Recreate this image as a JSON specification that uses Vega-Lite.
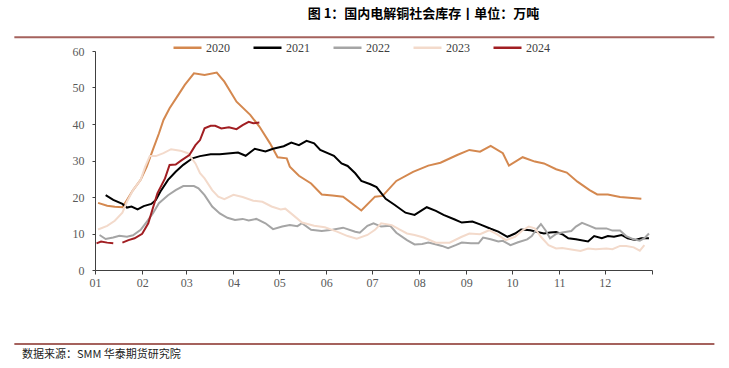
{
  "$schema": "https://vega.github.io/schema/vega-lite/v6.json",
  "width": 557,
  "height": 219,
  "autosize": {"type": "none"},
  "padding": {"left": 95, "top": 51, "right": 77, "bottom": 98},
  "background": "white",
  "title": {
    "text": "图 1：国内电解铜社会库存丨单位：万吨",
    "font": "Noto Sans CJK SC",
    "fontSize": 13,
    "fontWeight": "bold",
    "color": "#000000",
    "anchor": "middle",
    "frame": "group",
    "dx": 50,
    "offset": 11
  },
  "config": {
    "view": {"stroke": null},
    "axis": {
      "labelFont": "Liberation Serif",
      "labelFontSize": 12,
      "labelColor": "#595959",
      "domainColor": "#404040",
      "tickColor": "#404040",
      "grid": false,
      "title": null
    },
    "axisY": {"tickSize": 3, "labelPadding": 8, "labelOverlap": false, "labelFlush": false},
    "axisX": {"tickSize": 4, "labelPadding": 3, "labelOverlap": false, "labelFlush": false}
  },
  "layer": [
    {
      "data": {"values": [
        {"year":"2020","seg":"a","date":"2020-01-03","value":18.4},
        {"year":"2020","seg":"a","date":"2020-01-09","value":17.6},
        {"year":"2020","seg":"a","date":"2020-01-14","value":17.3},
        {"year":"2020","seg":"a","date":"2020-01-19","value":17.2},
        {"year":"2020","seg":"a","date":"2020-01-22","value":19.2},
        {"year":"2020","seg":"a","date":"2020-01-26","value":21.9},
        {"year":"2020","seg":"a","date":"2020-01-31","value":24.7},
        {"year":"2020","seg":"a","date":"2020-02-04","value":28.3},
        {"year":"2020","seg":"a","date":"2020-02-08","value":32.9},
        {"year":"2020","seg":"a","date":"2020-02-12","value":37.4},
        {"year":"2020","seg":"a","date":"2020-02-15","value":41.1},
        {"year":"2020","seg":"a","date":"2020-02-19","value":44.3},
        {"year":"2020","seg":"a","date":"2020-02-24","value":47.5},
        {"year":"2020","seg":"a","date":"2020-02-29","value":50.7},
        {"year":"2020","seg":"a","date":"2020-03-06","value":53.9},
        {"year":"2020","seg":"a","date":"2020-03-13","value":53.4},
        {"year":"2020","seg":"a","date":"2020-03-21","value":54.1},
        {"year":"2020","seg":"a","date":"2020-03-26","value":51.6},
        {"year":"2020","seg":"a","date":"2020-04-03","value":46.1},
        {"year":"2020","seg":"a","date":"2020-04-12","value":42.5},
        {"year":"2020","seg":"a","date":"2020-04-18","value":39.3},
        {"year":"2020","seg":"a","date":"2020-04-25","value":34.7},
        {"year":"2020","seg":"a","date":"2020-04-30","value":30.9},
        {"year":"2020","seg":"a","date":"2020-05-06","value":30.6},
        {"year":"2020","seg":"a","date":"2020-05-08","value":28.3},
        {"year":"2020","seg":"a","date":"2020-05-14","value":25.8},
        {"year":"2020","seg":"a","date":"2020-05-22","value":23.7},
        {"year":"2020","seg":"a","date":"2020-05-29","value":20.7},
        {"year":"2020","seg":"a","date":"2020-06-05","value":20.4},
        {"year":"2020","seg":"a","date":"2020-06-12","value":20.1},
        {"year":"2020","seg":"a","date":"2020-06-24","value":16.3},
        {"year":"2020","seg":"a","date":"2020-07-03","value":20.1},
        {"year":"2020","seg":"a","date":"2020-07-08","value":20.3},
        {"year":"2020","seg":"a","date":"2020-07-17","value":24.4},
        {"year":"2020","seg":"a","date":"2020-07-28","value":26.9},
        {"year":"2020","seg":"a","date":"2020-08-07","value":28.6},
        {"year":"2020","seg":"a","date":"2020-08-15","value":29.4},
        {"year":"2020","seg":"a","date":"2020-08-26","value":31.5},
        {"year":"2020","seg":"a","date":"2020-09-03","value":32.9},
        {"year":"2020","seg":"a","date":"2020-09-10","value":32.4},
        {"year":"2020","seg":"a","date":"2020-09-17","value":34.0},
        {"year":"2020","seg":"a","date":"2020-09-25","value":32.0},
        {"year":"2020","seg":"a","date":"2020-09-29","value":28.6},
        {"year":"2020","seg":"a","date":"2020-10-08","value":30.9},
        {"year":"2020","seg":"a","date":"2020-10-16","value":29.7},
        {"year":"2020","seg":"a","date":"2020-10-22","value":29.2},
        {"year":"2020","seg":"a","date":"2020-10-30","value":27.6},
        {"year":"2020","seg":"a","date":"2020-11-06","value":26.7},
        {"year":"2020","seg":"a","date":"2020-11-13","value":24.2},
        {"year":"2020","seg":"a","date":"2020-11-21","value":21.9},
        {"year":"2020","seg":"a","date":"2020-11-26","value":20.7},
        {"year":"2020","seg":"a","date":"2020-12-03","value":20.7},
        {"year":"2020","seg":"a","date":"2020-12-11","value":20.0},
        {"year":"2020","seg":"a","date":"2020-12-19","value":19.7},
        {"year":"2020","seg":"a","date":"2020-12-25","value":19.5},

        {"year":"2021","seg":"a","date":"2021-01-08","value":20.5},
        {"year":"2021","seg":"a","date":"2021-01-13","value":19.2},
        {"year":"2021","seg":"a","date":"2021-01-19","value":18.1},
        {"year":"2021","seg":"a","date":"2021-01-22","value":17.1},
        {"year":"2021","seg":"a","date":"2021-01-25","value":17.4},
        {"year":"2021","seg":"a","date":"2021-01-29","value":16.6},
        {"year":"2021","seg":"a","date":"2021-02-02","value":17.5},
        {"year":"2021","seg":"a","date":"2021-02-07","value":18.1},
        {"year":"2021","seg":"a","date":"2021-02-10","value":19.2},
        {"year":"2021","seg":"a","date":"2021-02-13","value":21.5},
        {"year":"2021","seg":"a","date":"2021-02-18","value":24.7},
        {"year":"2021","seg":"a","date":"2021-02-23","value":26.9},
        {"year":"2021","seg":"a","date":"2021-02-28","value":28.8},
        {"year":"2021","seg":"a","date":"2021-03-05","value":30.6},
        {"year":"2021","seg":"a","date":"2021-03-10","value":31.2},
        {"year":"2021","seg":"a","date":"2021-03-17","value":31.7},
        {"year":"2021","seg":"a","date":"2021-03-23","value":31.7},
        {"year":"2021","seg":"a","date":"2021-03-30","value":32.0},
        {"year":"2021","seg":"a","date":"2021-04-04","value":32.2},
        {"year":"2021","seg":"a","date":"2021-04-09","value":31.3},
        {"year":"2021","seg":"a","date":"2021-04-15","value":33.2},
        {"year":"2021","seg":"a","date":"2021-04-22","value":32.5},
        {"year":"2021","seg":"a","date":"2021-04-27","value":33.2},
        {"year":"2021","seg":"a","date":"2021-05-04","value":33.9},
        {"year":"2021","seg":"a","date":"2021-05-09","value":34.9},
        {"year":"2021","seg":"a","date":"2021-05-14","value":34.2},
        {"year":"2021","seg":"a","date":"2021-05-19","value":35.4},
        {"year":"2021","seg":"a","date":"2021-05-24","value":34.7},
        {"year":"2021","seg":"a","date":"2021-05-28","value":32.9},
        {"year":"2021","seg":"a","date":"2021-06-06","value":31.3},
        {"year":"2021","seg":"a","date":"2021-06-11","value":29.2},
        {"year":"2021","seg":"a","date":"2021-06-15","value":28.5},
        {"year":"2021","seg":"a","date":"2021-06-20","value":26.5},
        {"year":"2021","seg":"a","date":"2021-06-24","value":24.4},
        {"year":"2021","seg":"a","date":"2021-06-30","value":23.5},
        {"year":"2021","seg":"a","date":"2021-07-04","value":22.7},
        {"year":"2021","seg":"a","date":"2021-07-10","value":19.5},
        {"year":"2021","seg":"a","date":"2021-07-16","value":17.8},
        {"year":"2021","seg":"a","date":"2021-07-23","value":15.7},
        {"year":"2021","seg":"a","date":"2021-07-29","value":15.1},
        {"year":"2021","seg":"a","date":"2021-08-06","value":17.2},
        {"year":"2021","seg":"a","date":"2021-08-12","value":16.2},
        {"year":"2021","seg":"a","date":"2021-08-17","value":15.1},
        {"year":"2021","seg":"a","date":"2021-08-24","value":13.9},
        {"year":"2021","seg":"a","date":"2021-08-29","value":13.0},
        {"year":"2021","seg":"a","date":"2021-09-05","value":13.3},
        {"year":"2021","seg":"a","date":"2021-09-10","value":12.5},
        {"year":"2021","seg":"a","date":"2021-09-17","value":11.3},
        {"year":"2021","seg":"a","date":"2021-09-22","value":10.5},
        {"year":"2021","seg":"a","date":"2021-09-28","value":9.1},
        {"year":"2021","seg":"a","date":"2021-10-03","value":10.0},
        {"year":"2021","seg":"a","date":"2021-10-07","value":11.1},
        {"year":"2021","seg":"a","date":"2021-10-13","value":10.9},
        {"year":"2021","seg":"a","date":"2021-10-17","value":10.5},
        {"year":"2021","seg":"a","date":"2021-10-22","value":10.0},
        {"year":"2021","seg":"a","date":"2021-10-26","value":10.3},
        {"year":"2021","seg":"a","date":"2021-10-30","value":10.4},
        {"year":"2021","seg":"a","date":"2021-11-03","value":9.8},
        {"year":"2021","seg":"a","date":"2021-11-07","value":8.7},
        {"year":"2021","seg":"a","date":"2021-11-12","value":8.4},
        {"year":"2021","seg":"a","date":"2021-11-20","value":7.8},
        {"year":"2021","seg":"a","date":"2021-11-24","value":9.3},
        {"year":"2021","seg":"a","date":"2021-11-29","value":8.7},
        {"year":"2021","seg":"a","date":"2021-12-03","value":9.3},
        {"year":"2021","seg":"a","date":"2021-12-07","value":9.1},
        {"year":"2021","seg":"a","date":"2021-12-12","value":9.6},
        {"year":"2021","seg":"a","date":"2021-12-16","value":8.7},
        {"year":"2021","seg":"a","date":"2021-12-21","value":8.2},
        {"year":"2021","seg":"a","date":"2021-12-25","value":8.7},
        {"year":"2021","seg":"a","date":"2021-12-30","value":8.7},

        {"year":"2022","seg":"a","date":"2022-01-04","value":9.6},
        {"year":"2022","seg":"a","date":"2022-01-08","value":8.5},
        {"year":"2022","seg":"a","date":"2022-01-13","value":8.9},
        {"year":"2022","seg":"a","date":"2022-01-17","value":9.4},
        {"year":"2022","seg":"a","date":"2022-01-22","value":9.1},
        {"year":"2022","seg":"a","date":"2022-01-26","value":9.5},
        {"year":"2022","seg":"a","date":"2022-01-31","value":11.0},
        {"year":"2022","seg":"a","date":"2022-02-04","value":13.2},
        {"year":"2022","seg":"a","date":"2022-02-08","value":15.5},
        {"year":"2022","seg":"a","date":"2022-02-12","value":18.3},
        {"year":"2022","seg":"a","date":"2022-02-18","value":20.5},
        {"year":"2022","seg":"a","date":"2022-02-23","value":21.9},
        {"year":"2022","seg":"a","date":"2022-02-28","value":23.0},
        {"year":"2022","seg":"a","date":"2022-03-06","value":23.0},
        {"year":"2022","seg":"a","date":"2022-03-09","value":22.4},
        {"year":"2022","seg":"a","date":"2022-03-13","value":20.5},
        {"year":"2022","seg":"a","date":"2022-03-18","value":17.4},
        {"year":"2022","seg":"a","date":"2022-03-23","value":15.5},
        {"year":"2022","seg":"a","date":"2022-03-28","value":14.3},
        {"year":"2022","seg":"a","date":"2022-04-02","value":13.7},
        {"year":"2022","seg":"a","date":"2022-04-07","value":14.0},
        {"year":"2022","seg":"a","date":"2022-04-11","value":13.6},
        {"year":"2022","seg":"a","date":"2022-04-16","value":14.0},
        {"year":"2022","seg":"a","date":"2022-04-22","value":12.8},
        {"year":"2022","seg":"a","date":"2022-04-27","value":11.2},
        {"year":"2022","seg":"a","date":"2022-05-03","value":11.9},
        {"year":"2022","seg":"a","date":"2022-05-08","value":12.3},
        {"year":"2022","seg":"a","date":"2022-05-13","value":12.0},
        {"year":"2022","seg":"a","date":"2022-05-16","value":12.8},
        {"year":"2022","seg":"a","date":"2022-05-22","value":11.0},
        {"year":"2022","seg":"a","date":"2022-05-29","value":10.7},
        {"year":"2022","seg":"a","date":"2022-06-05","value":11.0},
        {"year":"2022","seg":"a","date":"2022-06-12","value":11.6},
        {"year":"2022","seg":"a","date":"2022-06-20","value":10.5},
        {"year":"2022","seg":"a","date":"2022-06-23","value":10.2},
        {"year":"2022","seg":"a","date":"2022-06-28","value":12.1},
        {"year":"2022","seg":"a","date":"2022-07-02","value":12.8},
        {"year":"2022","seg":"a","date":"2022-07-07","value":11.9},
        {"year":"2022","seg":"a","date":"2022-07-13","value":12.1},
        {"year":"2022","seg":"a","date":"2022-07-17","value":10.2},
        {"year":"2022","seg":"a","date":"2022-07-24","value":8.2},
        {"year":"2022","seg":"a","date":"2022-07-29","value":7.0},
        {"year":"2022","seg":"a","date":"2022-08-03","value":7.1},
        {"year":"2022","seg":"a","date":"2022-08-07","value":7.5},
        {"year":"2022","seg":"a","date":"2022-08-11","value":7.1},
        {"year":"2022","seg":"a","date":"2022-08-16","value":6.6},
        {"year":"2022","seg":"a","date":"2022-08-20","value":6.0},
        {"year":"2022","seg":"a","date":"2022-08-25","value":6.8},
        {"year":"2022","seg":"a","date":"2022-08-29","value":7.5},
        {"year":"2022","seg":"a","date":"2022-09-04","value":7.3},
        {"year":"2022","seg":"a","date":"2022-09-09","value":7.3},
        {"year":"2022","seg":"a","date":"2022-09-12","value":8.9},
        {"year":"2022","seg":"a","date":"2022-09-17","value":8.4},
        {"year":"2022","seg":"a","date":"2022-09-22","value":7.8},
        {"year":"2022","seg":"a","date":"2022-09-25","value":8.0},
        {"year":"2022","seg":"a","date":"2022-09-30","value":6.8},
        {"year":"2022","seg":"a","date":"2022-10-05","value":7.6},
        {"year":"2022","seg":"a","date":"2022-10-11","value":8.4},
        {"year":"2022","seg":"a","date":"2022-10-14","value":9.3},
        {"year":"2022","seg":"a","date":"2022-10-17","value":11.1},
        {"year":"2022","seg":"a","date":"2022-10-20","value":12.6},
        {"year":"2022","seg":"a","date":"2022-10-23","value":10.9},
        {"year":"2022","seg":"a","date":"2022-10-26","value":8.7},
        {"year":"2022","seg":"a","date":"2022-10-30","value":9.9},
        {"year":"2022","seg":"a","date":"2022-11-03","value":10.3},
        {"year":"2022","seg":"a","date":"2022-11-09","value":10.7},
        {"year":"2022","seg":"a","date":"2022-11-12","value":11.9},
        {"year":"2022","seg":"a","date":"2022-11-16","value":12.9},
        {"year":"2022","seg":"a","date":"2022-11-21","value":12.1},
        {"year":"2022","seg":"a","date":"2022-11-25","value":11.4},
        {"year":"2022","seg":"a","date":"2022-12-02","value":11.4},
        {"year":"2022","seg":"a","date":"2022-12-06","value":10.8},
        {"year":"2022","seg":"a","date":"2022-12-11","value":10.8},
        {"year":"2022","seg":"a","date":"2022-12-15","value":9.3},
        {"year":"2022","seg":"a","date":"2022-12-20","value":8.4},
        {"year":"2022","seg":"a","date":"2022-12-24","value":8.0},
        {"year":"2022","seg":"a","date":"2022-12-27","value":8.7},
        {"year":"2022","seg":"a","date":"2022-12-30","value":10.0},

        {"year":"2023","seg":"a","date":"2023-01-03","value":11.1},
        {"year":"2023","seg":"a","date":"2023-01-09","value":12.1},
        {"year":"2023","seg":"a","date":"2023-01-14","value":13.5},
        {"year":"2023","seg":"a","date":"2023-01-19","value":15.7},
        {"year":"2023","seg":"a","date":"2023-01-22","value":18.7},
        {"year":"2023","seg":"a","date":"2023-01-26","value":21.9},
        {"year":"2023","seg":"a","date":"2023-01-31","value":24.7},
        {"year":"2023","seg":"a","date":"2023-02-03","value":28.3},
        {"year":"2023","seg":"a","date":"2023-02-06","value":31.2},
        {"year":"2023","seg":"a","date":"2023-02-10","value":31.2},
        {"year":"2023","seg":"a","date":"2023-02-15","value":32.0},
        {"year":"2023","seg":"a","date":"2023-02-20","value":33.1},
        {"year":"2023","seg":"a","date":"2023-02-26","value":32.7},
        {"year":"2023","seg":"a","date":"2023-03-02","value":32.0},
        {"year":"2023","seg":"a","date":"2023-03-07","value":29.2},
        {"year":"2023","seg":"a","date":"2023-03-10","value":26.5},
        {"year":"2023","seg":"a","date":"2023-03-13","value":25.1},
        {"year":"2023","seg":"a","date":"2023-03-18","value":21.9},
        {"year":"2023","seg":"a","date":"2023-03-22","value":20.1},
        {"year":"2023","seg":"a","date":"2023-03-26","value":19.4},
        {"year":"2023","seg":"a","date":"2023-04-01","value":20.6},
        {"year":"2023","seg":"a","date":"2023-04-07","value":20.0},
        {"year":"2023","seg":"a","date":"2023-04-14","value":19.0},
        {"year":"2023","seg":"a","date":"2023-04-20","value":18.7},
        {"year":"2023","seg":"a","date":"2023-04-26","value":17.4},
        {"year":"2023","seg":"a","date":"2023-05-02","value":16.6},
        {"year":"2023","seg":"a","date":"2023-05-05","value":16.8},
        {"year":"2023","seg":"a","date":"2023-05-10","value":15.1},
        {"year":"2023","seg":"a","date":"2023-05-16","value":13.0},
        {"year":"2023","seg":"a","date":"2023-05-24","value":12.1},
        {"year":"2023","seg":"a","date":"2023-05-31","value":11.7},
        {"year":"2023","seg":"a","date":"2023-06-08","value":10.5},
        {"year":"2023","seg":"a","date":"2023-06-15","value":9.3},
        {"year":"2023","seg":"a","date":"2023-06-21","value":8.6},
        {"year":"2023","seg":"a","date":"2023-06-28","value":9.6},
        {"year":"2023","seg":"a","date":"2023-07-03","value":11.0},
        {"year":"2023","seg":"a","date":"2023-07-07","value":12.8},
        {"year":"2023","seg":"a","date":"2023-07-14","value":12.3},
        {"year":"2023","seg":"a","date":"2023-07-19","value":11.1},
        {"year":"2023","seg":"a","date":"2023-07-24","value":10.0},
        {"year":"2023","seg":"a","date":"2023-07-29","value":9.6},
        {"year":"2023","seg":"a","date":"2023-08-04","value":8.9},
        {"year":"2023","seg":"a","date":"2023-08-12","value":7.5},
        {"year":"2023","seg":"a","date":"2023-08-21","value":7.5},
        {"year":"2023","seg":"a","date":"2023-08-29","value":9.1},
        {"year":"2023","seg":"a","date":"2023-09-03","value":10.0},
        {"year":"2023","seg":"a","date":"2023-09-10","value":9.8},
        {"year":"2023","seg":"a","date":"2023-09-16","value":10.9},
        {"year":"2023","seg":"a","date":"2023-09-21","value":9.8},
        {"year":"2023","seg":"a","date":"2023-09-27","value":8.2},
        {"year":"2023","seg":"a","date":"2023-10-03","value":9.1},
        {"year":"2023","seg":"a","date":"2023-10-08","value":10.9},
        {"year":"2023","seg":"a","date":"2023-10-12","value":11.9},
        {"year":"2023","seg":"a","date":"2023-10-16","value":11.4},
        {"year":"2023","seg":"a","date":"2023-10-20","value":9.1},
        {"year":"2023","seg":"a","date":"2023-10-25","value":6.8},
        {"year":"2023","seg":"a","date":"2023-10-30","value":5.9},
        {"year":"2023","seg":"a","date":"2023-11-03","value":6.0},
        {"year":"2023","seg":"a","date":"2023-11-09","value":5.6},
        {"year":"2023","seg":"a","date":"2023-11-15","value":5.2},
        {"year":"2023","seg":"a","date":"2023-11-20","value":5.9},
        {"year":"2023","seg":"a","date":"2023-11-25","value":5.7},
        {"year":"2023","seg":"a","date":"2023-12-02","value":5.9},
        {"year":"2023","seg":"a","date":"2023-12-06","value":5.7},
        {"year":"2023","seg":"a","date":"2023-12-11","value":6.6},
        {"year":"2023","seg":"a","date":"2023-12-15","value":6.6},
        {"year":"2023","seg":"a","date":"2023-12-20","value":6.2},
        {"year":"2023","seg":"a","date":"2023-12-24","value":5.3},
        {"year":"2023","seg":"a","date":"2023-12-27","value":6.8},

        {"year":"2024","seg":"a","date":"2024-01-02","value":7.3},
        {"year":"2024","seg":"a","date":"2024-01-05","value":7.8},
        {"year":"2024","seg":"a","date":"2024-01-09","value":7.5},
        {"year":"2024","seg":"a","date":"2024-01-13","value":7.3},
        {"year":"2024","seg":"b","date":"2024-01-19","value":7.5},
        {"year":"2024","seg":"b","date":"2024-01-23","value":8.2},
        {"year":"2024","seg":"b","date":"2024-01-27","value":8.7},
        {"year":"2024","seg":"b","date":"2024-02-01","value":9.9},
        {"year":"2024","seg":"b","date":"2024-02-05","value":12.8},
        {"year":"2024","seg":"b","date":"2024-02-08","value":16.9},
        {"year":"2024","seg":"b","date":"2024-02-11","value":21.0},
        {"year":"2024","seg":"b","date":"2024-02-16","value":25.1},
        {"year":"2024","seg":"b","date":"2024-02-19","value":28.8},
        {"year":"2024","seg":"b","date":"2024-02-23","value":28.9},
        {"year":"2024","seg":"b","date":"2024-02-27","value":30.1},
        {"year":"2024","seg":"b","date":"2024-03-03","value":31.5},
        {"year":"2024","seg":"b","date":"2024-03-07","value":34.2},
        {"year":"2024","seg":"b","date":"2024-03-10","value":35.6},
        {"year":"2024","seg":"b","date":"2024-03-13","value":38.8},
        {"year":"2024","seg":"b","date":"2024-03-17","value":39.5},
        {"year":"2024","seg":"b","date":"2024-03-20","value":39.5},
        {"year":"2024","seg":"b","date":"2024-03-24","value":38.8},
        {"year":"2024","seg":"b","date":"2024-03-29","value":39.1},
        {"year":"2024","seg":"b","date":"2024-04-03","value":38.6},
        {"year":"2024","seg":"b","date":"2024-04-07","value":39.7},
        {"year":"2024","seg":"b","date":"2024-04-11","value":40.6},
        {"year":"2024","seg":"b","date":"2024-04-14","value":40.2},
        {"year":"2024","seg":"b","date":"2024-04-18","value":40.4}
      ]},
      "mark": {"type": "line", "strokeWidth": 2},
      "encoding": {
        "x": {
          "field": "date",
          "timeUnit": "monthdate",
          "type": "temporal",
          "scale": {"domain": [{"year": 2012, "month": 1, "date": 1}, {"year": 2013, "month": 1, "date": 1}]},
          "axis": {
            "values": [
              {"year": 2012, "month": 1, "date": 1}, {"year": 2012, "month": 2, "date": 1},
              {"year": 2012, "month": 3, "date": 1}, {"year": 2012, "month": 4, "date": 1},
              {"year": 2012, "month": 5, "date": 1}, {"year": 2012, "month": 6, "date": 1},
              {"year": 2012, "month": 7, "date": 1}, {"year": 2012, "month": 8, "date": 1},
              {"year": 2012, "month": 9, "date": 1}, {"year": 2012, "month": 10, "date": 1},
              {"year": 2012, "month": 11, "date": 1}, {"year": 2012, "month": 12, "date": 1},
              {"year": 2013, "month": 1, "date": 1}
            ],
            "labelExpr": "year(datum.value) > 2012 ? '' : timeFormat(datum.value, '%m')"
          }
        },
        "y": {
          "field": "value",
          "type": "quantitative",
          "scale": {"domain": [0, 60], "nice": false, "zero": true},
          "axis": {"values": [0, 10, 20, 30, 40, 50, 60]}
        },
        "color": {
          "field": "year",
          "type": "nominal",
          "scale": {
            "domain": ["2020", "2021", "2022", "2023", "2024"],
            "range": ["#D4884F", "#000000", "#A5A5A5", "#F3DACB", "#A11E22"]
          },
          "legend": {
            "orient": "none",
            "direction": "horizontal",
            "legendX": 77,
            "legendY": -19,
            "title": null,
            "symbolType": "stroke",
            "symbolSize": 784,
            "symbolStrokeWidth": 2.5,
            "labelFont": "Liberation Serif",
            "labelFontSize": 12,
            "labelColor": "#404040",
            "labelOffset": 3,
            "columnPadding": 18
          }
        },
        "detail": {"field": "seg", "type": "nominal"}
      }
    },
    {
      "data": {"values": [{}]},
      "mark": {"type": "rule", "color": "#A5625D", "strokeWidth": 2},
      "encoding": {
        "x": {"datum": {"year": 2011, "month": 11, "date": 9}, "type": "temporal"},
        "x2": {"datum": {"year": 2013, "month": 2, "date": 11}},
        "y": {"datum": 63.8, "type": "quantitative", "scale": {"domain": [0, 60], "nice": false}, "axis": {"values": [0, 10, 20, 30, 40, 50, 60]}}
      }
    },
    {
      "data": {"values": [{}]},
      "mark": {"type": "rule", "color": "#A5625D", "strokeWidth": 2},
      "encoding": {
        "x": {"datum": {"year": 2011, "month": 11, "date": 9}, "type": "temporal"},
        "x2": {"datum": {"year": 2013, "month": 2, "date": 11}},
        "y": {"datum": -20.3, "type": "quantitative", "scale": {"domain": [0, 60], "nice": false}, "axis": {"values": [0, 10, 20, 30, 40, 50, 60]}}
      }
    },
    {
      "data": {"values": [{}]},
      "mark": {"type": "text", "align": "left", "baseline": "middle", "font": "Noto Sans CJK SC", "fontSize": 11, "color": "#222222"},
      "encoding": {
        "x": {"datum": {"year": 2011, "month": 11, "date": 14}, "type": "temporal"},
        "y": {"datum": -23.2, "type": "quantitative", "scale": {"domain": [0, 60], "nice": false}, "axis": {"values": [0, 10, 20, 30, 40, 50, 60]}},
        "text": {"value": "数据来源：SMM 华泰期货研究院"}
      }
    }
  ]
}
